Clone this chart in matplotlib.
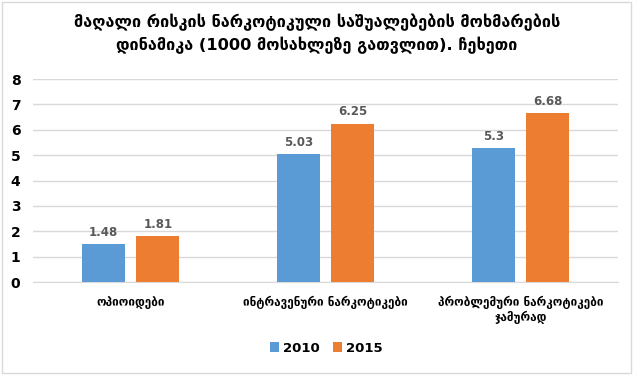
import matplotlib.pyplot as plt
import numpy as np

categories = ['ოპიოიდები', 'ინტრავენური ნარკოტიკები', 'პრობლემური ნარკოტიკები\nჯამურად']
vals_2010 = [1.48, 5.03, 5.3]
vals_2015 = [1.81, 6.25, 6.68]
series_names = ['2010', '2015']
title = 'მაღალი რისკის ნარკოტიკული საშუალებების მოხმარების\nდინამიკა (1000 მოსახლეზე გათვლით). ჩეხეთი'

blue = '#5B9BD5'
orange = '#ED7D31'

plt.rcParams['font.family'] = ['DejaVu Sans']

fig = plt.figure(figsize=(6.34, 3.75), dpi=100)
ax = fig.add_axes([0.052, 0.248, 0.923, 0.541])

x = np.arange(len(categories))
w = 0.22
b1 = ax.bar(x - 0.14, vals_2010, w, color=blue, label=series_names[0], zorder=3)
b2 = ax.bar(x + 0.14, vals_2015, w, color=orange, label=series_names[1], zorder=3)

for bars, vals in [(b1, vals_2010), (b2, vals_2015)]:
    for r, v in zip(bars, vals):
        ax.text(r.get_x() + r.get_width() / 2, v + 0.2, str(v), ha='center', va='bottom',
                fontsize=8.5, fontweight='bold', color='#595959')

ax.set_xlim(-0.5, 2.5)
ax.set_ylim(0, 8)
ax.set_yticks(range(0, 9))
ax.yaxis.grid(True, color='#D9D9D9', linewidth=1, zorder=0)
for s in ax.spines.values():
    s.set_visible(False)
ax.spines['bottom'].set_visible(True)
ax.spines['bottom'].set_color('#D9D9D9')
ax.tick_params(axis='both', length=0)
ax.tick_params(axis='y', labelsize=10, pad=9)
for t in ax.get_yticklabels():
    t.set_fontweight('bold')
ax.set_xticks(x)
ax.set_xticklabels(categories, fontsize=8.5, fontweight='bold')
ax.tick_params(axis='x', pad=10)

fig.suptitle(title, y=0.963, fontsize=11.7, fontweight='bold', linespacing=1.45)

leg = fig.legend(handles=[b1, b2], loc='center', bbox_to_anchor=(0.515, 0.072), ncol=2,
                 frameon=False, handlelength=0.7, handleheight=0.7, handletextpad=0.3,
                 columnspacing=1.0, prop={'size': 9.5, 'weight': 'bold'})

fig.patches.append(plt.Rectangle((0.003, 0.005), 0.992, 0.99, transform=fig.transFigure,
                                 fill=False, edgecolor='#D9D9D9', linewidth=1))

fig.savefig('out.png', dpi=100)
